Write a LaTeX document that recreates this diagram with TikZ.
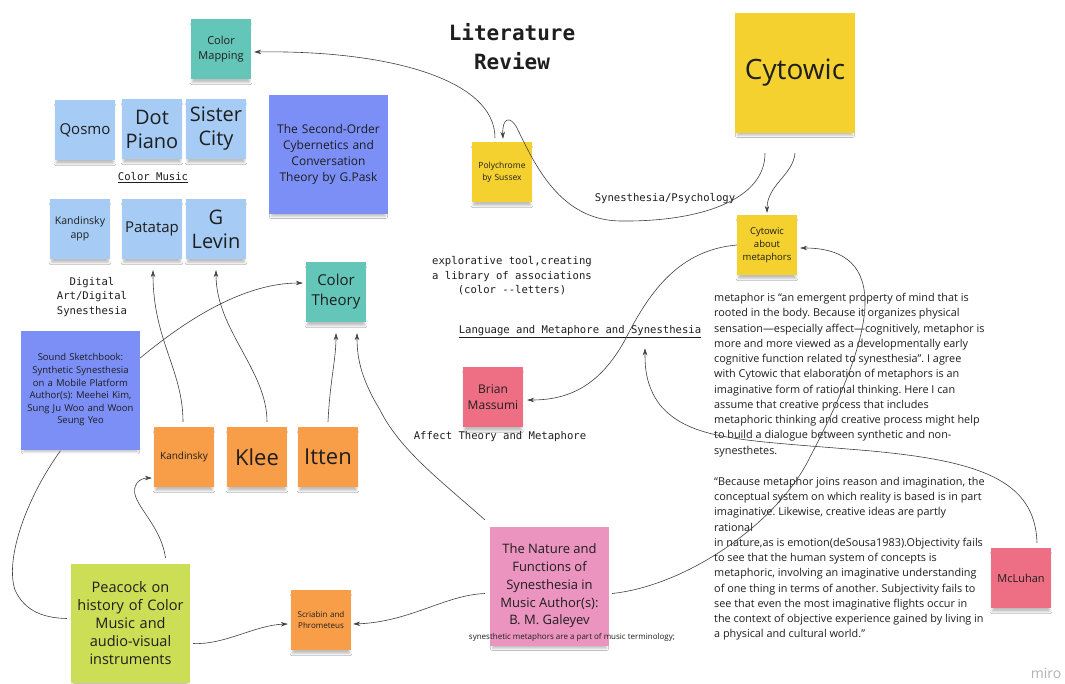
\documentclass[tikz,border=0pt]{standalone}
\usepackage{fontspec}
\setmainfont{Open Sans}
\setmonofont{DejaVu Sans Mono}
\usetikzlibrary{arrows.meta,calc,shadows.blur}
\definecolor{teal}{RGB}{100,197,185}
\definecolor{lblue}{RGB}{166,204,245}
\definecolor{violet}{RGB}{123,143,247}
\definecolor{orng}{RGB}{249,158,72}
\definecolor{yell}{RGB}{245,209,48}
\definecolor{grn}{RGB}{203,222,85}
\definecolor{pnk}{RGB}{234,148,191}
\definecolor{rpnk}{RGB}{238,111,132}
\definecolor{ink}{RGB}{30,30,30}
\newcommand{\fs}[2]{\fontsize{#1}{#2}\selectfont}
\frenchspacing
\tikzset{
  sticky/.style={draw=none, inner sep=2pt, align=center, text=ink,
    blur shadow={shadow xshift=0pt, shadow yshift=-5pt, shadow opacity=25, shadow blur steps=6, shadow scale=0.96}},
  small/.style={sticky, minimum width=60pt, minimum height=60pt, text width=56pt},
  big/.style={sticky, minimum width=119pt, minimum height=119pt, text width=112pt},
  mono/.style={font=\ttfamily\fs{10.6}{14.5}, text=ink, align=center, inner sep=0pt},
  para/.style={font=\fs{10.85}{15.25}, text=ink, align=left, inner sep=0pt, anchor=north west},
  arr/.style={draw=ink!85, line width=0.6pt, -{Stealth[length=7pt,width=4.5pt]}},
  ln/.style={draw=ink!85, line width=0.6pt},
}
\begin{document}
\begin{tikzpicture}[x=1pt,y=-1pt]
\useasboundingbox (0,0) rectangle (1065,683);
\fill[white] (0,0) rectangle (1065,683);

% stickies
\node[small, fill=teal, font=\fs{11}{15}] (cmap) at (221,49) {Color\\Mapping};
\node[small, fill=lblue, font=\fs{15}{20}] (qosmo) at (85,130) {Qosmo};
\node[small, fill=lblue, font=\fs{20}{24}] (dot) at (152,129) {Dot\\Piano};
\node[small, fill=lblue, font=\fs{20}{24}] (sister) at (216,129) {Sister\\City};
\node[small, fill=lblue, font=\fs{10.5}{14.5}] (kapp) at (80,229) {Kandinsky\\app};
\node[small, fill=lblue, font=\fs{15}{20}] (pata) at (152,229) {Patatap};
\node[small, fill=lblue, font=\fs{20}{24}] (levin) at (216,229) {G\\Levin};
\node[big, fill=violet, font=\fs{12}{16}] (pask) at (328.5,154.5) {The Second-Order\\Cybernetics and\\Conversation\\Theory by G.Pask};
\node[small, fill=teal, font=\fs{15}{20}] (ctheory) at (336,292) {Color\\Theory};
\node[big, fill=violet, font=\fs{9.5}{12.6}] (sound) at (80.5,390) {Sound Sketchbook:\\Synthetic Synesthesia\\on a Mobile Platform\\Author(s): Meehei Kim,\\Sung Ju Woo and Woon\\Seung Yeo};
\node[small, fill=orng, font=\fs{10}{13}] (kand) at (184,457) {Kandinsky};
\node[small, fill=orng, font=\fs{22}{26}] (klee) at (257,457) {Klee};
\node[small, fill=orng, font=\fs{22}{26}] (itten) at (328,457) {Itten};
\node[big, fill=grn, font=\fs{14.5}{18}] (peacock) at (130.5,623.5) {Peacock on\\history of Color\\Music and\\audio-visual\\instruments};
\node[small, fill=orng, font=\fs{8}{11.5}] (scriabin) at (321,620) {Scriabin and\\Phrometeus};
\node[big, fill=pnk] (galeyev) at (549.5,586.5) {};
\node[font=\fs{13}{17.8}, text=ink, align=center, inner sep=0pt] (galtext) at (549.5,586) {The Nature and\\Functions of\\Synesthesia in\\Music Author(s):\\B. M. Galeyev};
\node[font=\fs{8}{10}, text=ink, inner sep=0pt] (galcap) at (572,637) {synesthetic metaphors are a part of music terminology;};
\node[small, fill=rpnk, font=\fs{12}{16}] (massumi) at (493,397) {Brian\\Massumi};
\node[small, fill=yell, font=\fs{8.5}{12}] (poly) at (502,172) {Polychrome\\by Sussex};
\node[big, fill=yell, font=\fs{28}{32}, minimum width=120pt, minimum height=120pt] (cyt) at (795,73) {Cytowic};
\node[small, fill=yell, font=\fs{9.5}{13}] (about) at (767,245) {Cytowic\\about\\metaphors};
\node[small, fill=rpnk, font=\fs{11}{15}] (mcl) at (1021,578) {McLuhan};

% mono labels
\node[font=\ttfamily\bfseries\fs{21}{29}, text=ink, align=center, inner sep=0pt] (title) at (512,47) {Literature\\Review};
\node[mono] (cmusic) at (153,178) {\underline{Color Music}};
\node[mono] (digital) at (92,297) {Digital\\Art/Digital\\Synesthesia};
\node[mono] (explor) at (512,276) {explorative tool,creating\\a library of associations\\(color --letters)};
\node[mono] (lang) at (580,332) {\underline{Language and Metaphore and Synesthesia}};
\node[mono] (affect) at (500,437) {Affect Theory and Metaphore};
\node[mono] (synps) at (665,199) {Synesthesia/Psychology};

% paragraphs
\node[para] (p1) at (714,293) {metaphor is “an emergent property of mind that is\\
rooted in the body. Because it organizes physical\\
sensation—especially affect—cognitively, metaphor is\\
more and more viewed as a developmentally early\\
cognitive function related to synesthesia”. I agree\\
with Cytowic that elaboration of metaphors is an\\
imaginative form of rational thinking. Here I can\\
assume that creative process that includes\\
metaphoric thinking and creative process might help\\
to build a dialogue between synthetic and non-\\
synesthetes.};
\node[para] (p2) at (714,477) {“Because metaphor joins reason and imagination, the\\
conceptual system on which reality is based is in part\\
imaginative. Likewise, creative ideas are partly\\
rational\\
in nature,as is emotion(deSousa1983).Objectivity fails\\
to see that the human system of concepts is\\
metaphoric, involving an imaginative understanding\\
of one thing in terms of another. Subjectivity fails to\\
see that even the most imaginative flights occur in\\
the context of objective experience gained by living in\\
a physical and cultural world.”};

\node[font=\fs{14}{16}, text=black!30, inner sep=0pt] (miro) at (1046,673) {miro};

% connectors
\draw[arr] ($(poly.north)+(-7,-4)$) .. controls (495,80) and (390,50) .. ($(cmap.east)+(3,3)$);
\draw[arr] ($(cyt.south)+(-30,20)$) .. controls (765,200) and (700,222) .. (620,221)
  .. controls (560,220) and (535,165) .. (517,128) .. controls (510,115) and (502,118) .. ($(poly.north)+(1,-3)$);
\draw[arr] ($(cyt.south)+(0,20)$) .. controls (793,175) and (767,185) .. ($(about.north)+(0,-2)$);
\draw[arr] (about.west) .. controls (680,250) and (650,290) .. (625,340)
  .. controls (600,385) and (570,400) .. ($(massumi.east)+(4,3)$);
\draw[arr] ($(galeyev.east)+(3,7)$) .. controls (690,585) and (780,520) .. (810,457)
  .. controls (840,400) and (866,340) .. (865,300) .. controls (864,262) and (840,248) .. ($(about.east)+(3,3)$);
\draw[arr] ($(mcl.north)+(16,-5)$) .. controls (1035,480) and (980,460) .. (860,450)
  .. controls (740,440) and (690,440) .. (660,405) .. controls (645,385) and (645,365) .. ($(lang.south)+(65,10)$);
\draw[arr] ($(kand.north)+(-1,-5)$) .. controls (183,370) and (153,340) .. ($(pata.south)+(1,11)$);
\draw[arr] ($(klee.north)+(10,-5)$) .. controls (267,370) and (216,330) .. ($(levin.south)+(0,11)$);
\draw[arr] ($(itten.north)+(0,-5)$) .. controls (330,380) and (336,360) .. ($(ctheory.south)+(0,11)$);
\draw[arr] ($(galeyev.north west)+(-5,-7)$) .. controls (440,480) and (400,450) .. (380,410)
  .. controls (362,380) and (357,360) .. ($(ctheory.south)+(21,11)$);
\draw[arr] ($(sound.east)+(0,-32)$) .. controls (180,325) and (240,283) .. ($(ctheory.west)+(-3,-9)$);
\draw[ln] ($(sound.south)+(-20,1)$) .. controls (25,500) and (5,560) .. (15,590)
  .. controls (25,612) and (45,618) .. ($(peacock.west)+(-4,-5)$);
\draw[arr] ($(peacock.north)+(35,-6)$) .. controls (160,520) and (125,500) .. (137,483)
  .. controls (140,479) and (145,478) .. ($(kand.west)+(-2,21)$);
\draw[arr] ($(peacock.east)+(3,20)$) .. controls (225,645) and (255,625) .. ($(scriabin.west)+(-3,4)$);
\draw[arr] ($(galeyev.west)+(-5,7)$) .. controls (445,595) and (410,622) .. ($(scriabin.east)+(2,4)$);
\end{tikzpicture}
\end{document}
